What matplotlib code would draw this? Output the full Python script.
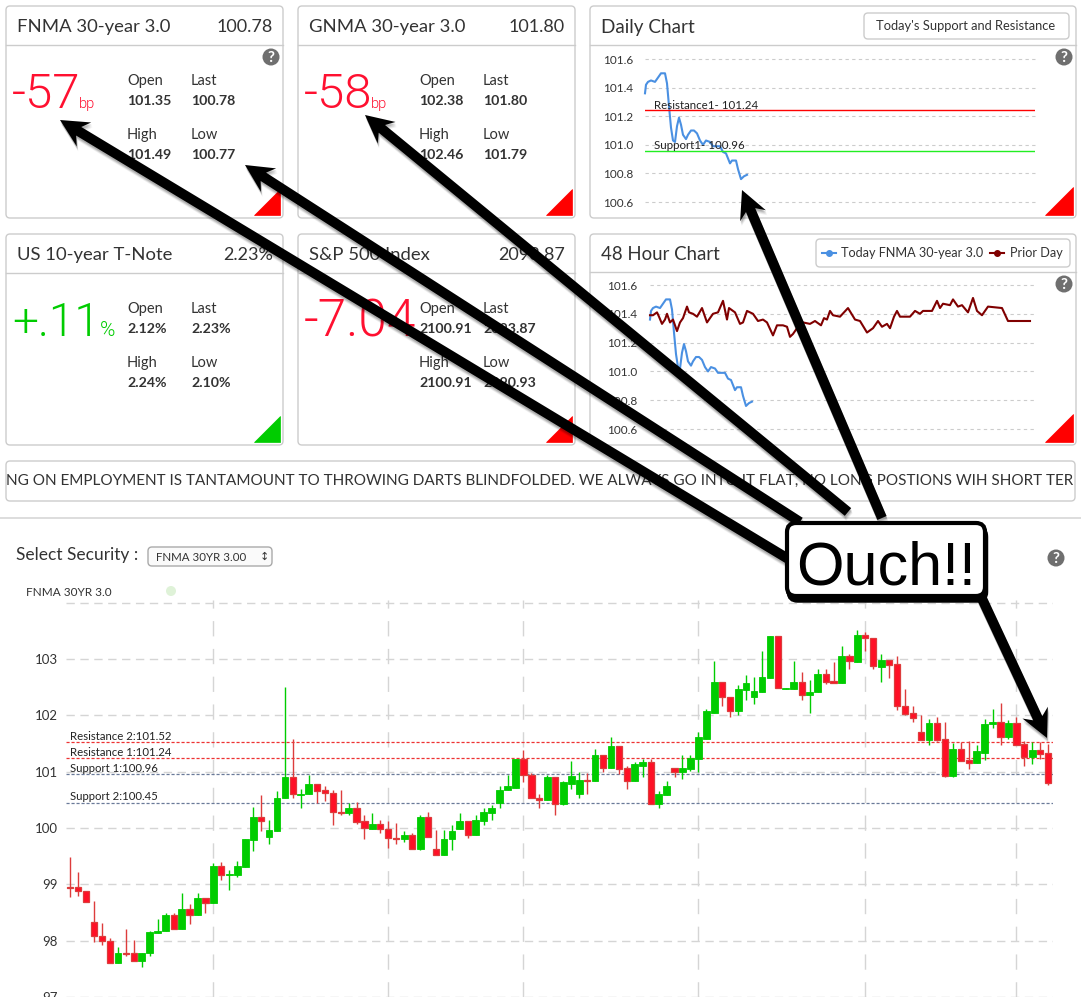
import numpy as np
import matplotlib
matplotlib.use("Agg")
import matplotlib.pyplot as plt
from matplotlib.patches import FancyBboxPatch, Polygon, Circle, Rectangle

# candles
opens = [98.96,98.95,98.89,98.34,98.09,98.00,97.60,97.79,97.78,97.64,
         97.78,98.14,98.17,98.45,98.21,98.56,98.46,98.75,98.67,99.32,
         99.16,99.17,99.31,99.79,100.19,99.84,99.94,100.53,100.91,100.59,
         100.60,100.79,100.67,100.63,100.29,100.26,100.36,100.12,99.99,100.08,
         99.99,99.83,99.81,99.87,99.62,100.19,99.62,99.52,99.80,99.99,
         100.13,99.87,100.13,100.26,100.44,100.67,100.72,101.22,100.95,100.54,
         100.49,100.91,100.42,100.79,100.61,100.86,100.83,101.29,101.06,101.46,
         101.06,100.83,101.11,101.18,100.42,100.59,101.06,100.99,101.04,101.22,
         101.59,102.05,102.60,102.33,102.07,102.46,102.33,102.42,102.67,103.41,
         102.47,102.47,102.60,102.37,102.41,102.74,102.62,102.58,103.06,102.95,
         103.43,103.38,102.86,102.99,102.92,102.17,102.05,101.71,101.57,101.87,
         101.59,100.93,101.41,101.20,101.16,101.34,101.84,101.89,101.61,101.87,
         101.50,101.27,101.38,101.34]
closes = [98.93,98.88,98.69,98.08,97.99,97.60,97.79,97.76,97.64,97.79,
          98.15,98.18,98.45,98.21,98.56,98.46,98.75,98.67,99.32,99.16,
          99.19,99.32,99.80,100.19,100.12,99.96,100.54,100.91,100.60,100.61,
          100.79,100.65,100.62,100.28,100.26,100.36,100.10,100.00,100.08,99.98,
          99.82,99.81,99.87,99.63,100.19,99.84,99.52,99.81,99.94,100.13,
          99.88,100.15,100.28,100.36,100.68,100.74,101.22,100.94,100.53,100.49,
          100.91,100.43,100.81,100.93,100.86,100.83,101.29,101.06,101.46,101.04,
          100.83,101.13,101.18,100.43,100.61,100.74,100.99,101.06,101.24,101.61,
          102.07,102.60,102.32,102.07,102.47,102.58,102.44,102.69,103.41,102.48,
          102.49,102.60,102.37,102.42,102.74,102.60,102.58,103.06,102.96,103.43,
          103.37,102.87,102.99,102.90,102.16,102.03,101.96,101.57,101.87,101.57,
          100.93,101.41,101.19,101.16,101.36,101.85,101.89,101.61,101.87,101.48,
          101.27,101.38,101.32,100.80]
highs = [99.49,99.22,98.89,98.71,98.31,98.04,97.89,98.21,98.02,97.79,
         98.18,98.39,98.50,98.50,98.84,98.65,98.85,98.75,99.38,99.40,
         99.26,99.42,99.80,100.38,100.58,100.15,100.66,102.50,101.59,100.70,
         100.94,100.79,100.75,100.67,100.67,100.45,100.46,100.23,100.27,100.15,
         100.13,100.09,99.94,99.92,100.23,100.29,99.96,99.96,100.06,100.27,
         100.13,100.23,100.36,100.41,100.75,100.94,101.22,101.38,100.98,100.61,
         100.95,100.91,100.84,101.19,100.99,100.98,101.40,101.29,101.62,101.46,
         101.11,101.17,101.23,101.22,100.66,100.84,101.06,101.29,101.29,101.70,
         102.12,102.97,102.60,102.33,102.54,102.72,102.69,103.15,103.41,103.41,
         102.49,102.97,102.78,102.63,102.82,102.83,102.95,103.24,103.09,103.52,
         103.49,103.38,103.09,102.99,103.06,102.47,102.17,102.00,101.94,101.98,
         101.89,101.51,101.52,101.55,101.48,101.94,102.12,102.22,101.92,101.98,
         101.55,101.53,101.53,101.50]
lows = [98.78,98.79,98.69,97.97,97.93,97.60,97.60,97.73,97.64,97.54,
        97.72,98.14,98.17,98.21,98.21,98.30,98.46,98.50,98.67,99.08,
        98.90,99.13,99.31,99.59,99.94,99.71,99.94,100.53,100.53,100.36,
        100.60,100.45,100.48,100.05,100.23,100.24,100.07,99.80,99.99,99.91,
        99.64,99.71,99.75,99.63,99.61,99.84,99.52,99.52,99.61,99.99,
        99.83,99.87,100.05,100.14,100.35,100.67,100.72,100.82,100.53,100.36,
        100.49,100.23,100.41,100.69,100.53,100.60,100.83,100.99,101.06,100.96,
        100.69,100.83,100.91,100.43,100.36,100.59,100.90,100.87,101.01,101.00,
        101.59,102.05,102.16,101.97,102.00,102.27,102.21,102.42,102.67,102.48,
        102.47,102.47,102.28,102.05,102.41,102.56,102.58,102.58,102.83,102.95,
        103.15,102.82,102.59,102.67,102.09,102.01,101.88,101.57,101.48,101.55,
        100.90,100.90,101.19,101.04,101.16,101.20,101.78,101.47,101.58,101.48,
        101.11,101.14,101.23,100.76]
main_yticks = [97, 98, 99, 100, 101, 102, 103, 104]
main_ylabels = ["97", "98", "99", "100", "101", "102", "103", ""]
main_xticks = [18, 40, 57, 79, 100, 119]
levels = [101.52, 101.24, 100.96, 100.45]
level_labels = ["Resistance 2:101.52", "Resistance 1:101.24", "Support 1:100.96", "Support 2:100.45"]

# small line charts
today_t = [0,1,3,6,10,13,16,20,22,24,26,28,30,32,34,36,38,41,43,46,49,52,55,58,61,65,68,71,75,78,81,85,87,91,93,96,99,102]
today_v = [101.36,101.42,101.44,101.45,101.44,101.47,101.50,101.50,101.43,101.27,101.12,101.03,101.02,101.13,101.19,101.14,101.07,101.04,101.07,101.10,
           101.10,101.08,101.03,101.00,101.03,101.02,100.99,100.99,100.99,100.95,100.94,100.87,100.89,100.89,100.83,100.76,100.78,100.79]
prior_t = [0,3,7,9,12,15,17,20,23,25,27,30,33,37,39,43,47,52,57,63,68,73,77,79,85,90,93,97,103,108,113,117,123,127,133,137,140,143,148,153,
           160,165,171,174,177,180,183,190,198,205,210,217,223,228,232,237,240,244,247,250,260,265,270,273,282,287,290,293,300,303,308,312,318,323,327,332,338,352,358,380]
prior_v = [101.39,101.39,101.41,101.38,101.33,101.36,101.40,101.34,101.36,101.32,101.28,101.34,101.37,101.45,101.41,101.40,101.38,101.44,101.34,101.40,
           101.41,101.49,101.36,101.44,101.41,101.33,101.34,101.42,101.40,101.35,101.36,101.34,101.25,101.32,101.32,101.31,101.24,101.26,101.31,101.34,
           101.33,101.35,101.32,101.37,101.36,101.42,101.39,101.38,101.44,101.36,101.35,101.27,101.30,101.35,101.31,101.33,101.30,101.38,101.42,101.38,
           101.38,101.42,101.40,101.42,101.42,101.49,101.44,101.47,101.46,101.50,101.45,101.46,101.41,101.51,101.42,101.39,101.45,101.44,101.35,101.35]
small_yticks = [100.6, 100.8, 101.0, 101.2, 101.4, 101.6]

# the four stat cards
titles = ["FNMA 30-year 3.0", "GNMA 30-year 3.0", "US 10-year T-Note", "S&P 500 Index"]
prices = ["100.78", "101.80", "2.23%", "2093.87"]
changes = ["-57", "-58", "+.11", "-7.04"]
units = ["bp", "bp", "%", ""]
open_vals = ["101.35", "102.38", "2.12%", "2100.91"]
last_vals = ["100.78", "101.80", "2.23%", "2093.87"]
high_vals = ["101.49", "102.46", "2.24%", "2100.91"]
low_vals = ["100.77", "101.79", "2.10%", "2090.93"]

W, H = 1081, 997
FONT = "Lato"
plt.rcParams["font.family"] = [FONT, "DejaVu Sans"]
TXT = "#333333"
RED = "#ff0000"
GREEN = "#00cc00"

fig = plt.figure(figsize=(W / 100, H / 100), dpi=100)
fig.patch.set_facecolor("white")


def px_axes(x0, y0, x1, y1, z=1):
    return fig.add_axes([x0 / W, 1 - y1 / H, (x1 - x0) / W, (y1 - y0) / H], zorder=z)


def box(ax, x0, y0, x1, y1, r=4, ec="#cccccc", fc="white", lw=1.0, z=1):
    ax.add_patch(FancyBboxPatch((x0 + r, y0 + r), x1 - x0 - 2 * r, y1 - y0 - 2 * r,
                                boxstyle="round,pad=%d,rounding_size=%d" % (r, r),
                                ec=ec, fc=fc, lw=lw, zorder=z))


def question(ax, x, y, r=8.5):
    ax.add_patch(Circle((x, y), r, fc="#6f6f6f", ec="none", zorder=3))
    ax.text(x, y + 0.5, "?", color="white", fontsize=11, fontweight="bold", ha="center", va="center", zorder=4)


def corner(ax, x1, y1, color, size=26):
    ax.add_patch(Polygon([(x1 - size, y1), (x1, y1), (x1, y1 - size)], fc=color, ec=color, lw=0.5, zorder=3))


def arrow(ax, x0, y0, x1, y1, w=10, head_w=28, head_l=28, z=5):
    # thick arrow with a concave head, plus a soft shadow
    d = np.array([x1 - x0, y1 - y0], dtype=float)
    d = d / np.hypot(*d)
    n = np.array([-d[1], d[0]])
    tail = np.array([x0, y0], dtype=float)
    tip = np.array([x1, y1], dtype=float)
    neck = tip - d * head_l * 0.78
    back = tip - d * head_l
    pts = [tail + n * w / 2, neck + n * w / 2, back + n * head_w / 2, tip,
           back - n * head_w / 2, neck - n * w / 2, tail - n * w / 2]
    for off, a in [(5, 0.06), (4, 0.08), (3, 0.10), (2, 0.12)]:
        ax.add_patch(Polygon([p + np.array([off * 0.3, off]) for p in pts], fc="black", ec="none", alpha=a, zorder=z))
    ax.add_patch(Polygon(pts, fc="black", ec="none", zorder=z + 1))


# page layer in pixel coordinates
bg = px_axes(0, 0, W, H, z=0)
bg.set_xlim(0, W)
bg.set_ylim(H, 0)
bg.axis("off")

card_boxes = [(6, 6, 283, 218), (298, 6, 575, 218), (6, 234, 283, 445), (298, 234, 575, 445)]
corner_cols = [RED, RED, GREEN, RED]
big_sizes = [35.5, 35.5, 33, 37]
for i, (x0, y0, x1, y1) in enumerate(card_boxes):
    box(bg, x0, y0, x1, y1)
    bg.plot([x0, x1], [y0 + 39, y0 + 39], color="#cccccc", lw=1)
    bg.text(x0 + 11, y0 + 21, titles[i], fontsize=13.3, color=TXT, va="center")
    bg.text(x1 - 10, y0 + 21, prices[i], fontsize=13.0, color=TXT, va="center", ha="right")
    col = GREEN if changes[i].startswith("+") else "#ff1030"
    bg.text(x0 + 6, y0 + 102, changes[i], fontsize=big_sizes[i], color=col, va="baseline", family="Roboto", fontweight=300)
    if units[i]:
        ux = x0 + (94 if units[i] == "%" else 73)
        bg.text(ux, y0 + 102, units[i], fontsize=15 if units[i] == "%" else 10.5, color=col, va="baseline", family="Roboto", fontweight=300)
    bg.text(x0 + 121, y0 + 75, "Open", fontsize=10.5, color=TXT, va="center")
    bg.text(x0 + 121, y0 + 95, open_vals[i], fontsize=10.2, color=TXT, va="center", fontweight="bold")
    bg.text(x0 + 185, y0 + 75, "Last", fontsize=10.5, color=TXT, va="center")
    bg.text(x0 + 185, y0 + 95, last_vals[i], fontsize=10.2, color=TXT, va="center", fontweight="bold")
    bg.text(x0 + 121, y0 + 129, "High", fontsize=10.5, color=TXT, va="center")
    bg.text(x0 + 121, y0 + 149, high_vals[i], fontsize=10.2, color=TXT, va="center", fontweight="bold")
    bg.text(x0 + 185, y0 + 129, "Low", fontsize=10.5, color=TXT, va="center")
    bg.text(x0 + 185, y0 + 149, low_vals[i], fontsize=10.2, color=TXT, va="center", fontweight="bold")
    corner(bg, x1 - 3, y1 - 3, corner_cols[i])
question(bg, 271, 57)

# daily / 48 hour frames
box(bg, 590, 6, 1076, 218)
bg.plot([590, 1076], [45, 45], color="#cccccc", lw=1)
bg.text(601, 27, "Daily Chart", fontsize=13.6, color=TXT, va="center")
box(bg, 864, 13, 1069, 39)
bg.text(966, 26, "Today's Support and Resistance", fontsize=9.3, color=TXT, va="center", ha="center")
question(bg, 1064, 57)
corner(bg, 1073, 215, RED, 28)

box(bg, 590, 234, 1076, 445)
bg.plot([590, 1076], [272, 272], color="#cccccc", lw=1)
bg.text(601, 254, "48 Hour Chart", fontsize=13.4, color=TXT, va="center")
box(bg, 816, 239, 1070, 267)
question(bg, 1064, 284)
corner(bg, 1073, 442, RED, 28)
bg.plot([822, 836], [253, 253], color="#4a90e2", lw=1.5)
bg.plot([829], [253], color="#4a90e2", marker="o", ms=4)
bg.text(841, 253, "Today FNMA 30-year 3.0", fontsize=9.1, color=TXT, va="center")
bg.plot([990, 1004], [253, 253], color="#800000", lw=1.5)
bg.plot([997], [253], color="#800000", marker="o", ms=4)
bg.text(1010, 253, "Prior Day", fontsize=9.1, color=TXT, va="center")

# ticker and the strip under it
box(bg, 6, 461, 1075, 501)
bg.text(6, 481, "NG ON EMPLOYMENT IS TANTAMOUNT TO THROWING DARTS BLINDFOLDED. WE ALWAYS GO INTO IT FLAT, NO LONG POSTIONS WIH SHORT TER",
        fontsize=11, color=TXT, va="center")
bg.add_patch(Rectangle((0, 517), W, 2, fc="#dddddd", ec="none"))

bg.text(16, 555, "Select Security :", fontsize=12.5, color=TXT, va="center")
box(bg, 148, 547, 272, 566, ec="#aaaaaa", fc="#fafafa")
bg.text(156, 557, "FNMA 30YR 3.00", fontsize=8.3, color=TXT, va="center")
bg.text(264, 557, "\u2195", fontsize=8, color=TXT, va="center", ha="center", family="DejaVu Sans")
question(bg, 1056, 558)
bg.text(26, 592, "FNMA 30YR 3.0", fontsize=8.5, color=TXT, va="center")
bg.add_patch(Circle((171, 591), 5, fc="#dff2d8", ec="none"))


def small_chart(x0, y0, x1, y1, pad):
    ax = px_axes(x0, y0, x1, y1, z=1)
    ax.patch.set_alpha(0)
    ax.set_xlim(0, x1 - x0)
    ax.set_ylim(100.6, 101.6)
    ax.set_yticks(small_yticks)
    ax.set_yticklabels(["%.1f" % v for v in small_yticks], fontsize=8.5, color=TXT)
    ax.set_xticks([])
    ax.tick_params(axis="y", length=0, pad=pad)
    ax.grid(axis="y", color="#cccccc", lw=0.8, ls=(0, (3, 3)), clip_on=False)
    for s in ax.spines.values():
        s.set_visible(False)
    return ax


daily = small_chart(645, 59, 1035, 202, 8.6)
daily.plot(today_t, today_v, color="#4a90e2", lw=1.5, clip_on=False)
daily.plot([0, 390], [101.24, 101.24], color="#ff0000", lw=1)
daily.plot([0, 390], [100.96, 100.96], color="#22ee22", lw=1)
daily.text(9, 101.235, "Resistance1- 101.24", fontsize=8.3, color="#222222", va="bottom")
daily.text(9, 100.955, "Support1- 100.96", fontsize=8.3, color="#222222", va="bottom")

two_day = small_chart(650, 285, 1035, 429, 9)
two_day.plot(today_t, today_v, color="#4a90e2", lw=1.5, clip_on=False)
two_day.plot(prior_t, prior_v, color="#800000", lw=1.5, clip_on=False)

# main candlestick chart
ax = px_axes(66, 600, 1053, 997, z=1)
ax.patch.set_alpha(0)
ax.set_xlim(-0.54, 123.6)
ax.set_ylim(97.01, 104.05)
ax.set_yticks(main_yticks)
ax.set_yticklabels(main_ylabels, fontsize=9.5, color=TXT)
ax.set_xticks(main_xticks)
ax.set_xticklabels([])
ax.tick_params(length=0, pad=6)
ax.grid(axis="y", color="#d5d5d5", lw=1, ls=(0, (6, 4)))
ax.grid(axis="x", color="#d5d5d5", lw=1, ls=(0, (11, 9)))
ax.set_axisbelow(True)
for s in ax.spines.values():
    s.set_visible(False)

lev_cols = ["#ee3333", "#ee3333", "#6a7a99", "#6a7a99"]
for lv, lab, c in zip(levels, level_labels, lev_cols):
    ax.axhline(lv, color=c, lw=0.9, ls=(0, (2.5, 1.5)), zorder=1.5)
    ax.text(0, lv + 0.005, lab, fontsize=8.2, color="#222222", va="bottom")

idx = np.arange(len(opens))
o = np.array(opens)
c = np.array(closes)
up = c >= o
ax.vlines(idx[up], np.array(lows)[up], np.array(highs)[up], color="#00cc00", lw=1, zorder=2)
ax.vlines(idx[~up], np.array(lows)[~up], np.array(highs)[~up], color="#dd3c3c", lw=1, zorder=2)
ax.bar(idx[up], (c - o)[up], bottom=o[up], width=0.85, color="#00cc00", edgecolor="#00cc00", lw=0.6, zorder=3)
ax.bar(idx[~up], (o - c)[~up], bottom=c[~up], width=0.78, color="#ff1026", edgecolor="#dd3c3c", lw=0.9, zorder=3)

# annotation layer on top of everything
top = px_axes(0, 0, W, H, z=10)
top.patch.set_alpha(0)
top.set_xlim(0, W)
top.set_ylim(H, 0)
top.axis("off")
arrow(top, 790, 560, 60, 120)
arrow(top, 800, 522, 245, 165)
arrow(top, 848, 512, 365, 115)
arrow(top, 882, 518, 742, 190)
arrow(top, 978, 590, 1047, 738)
for off, a in [(5, 0.08), (3, 0.12)]:
    box(top, 787 + off * 0.3, 523 + off, 985 + off * 0.3, 596 + off, r=9, ec="black", fc="none", lw=2.5, z=7)
box(top, 787, 523, 985, 596, r=9, ec="black", fc="white", lw=3, z=8)
top.text(886, 569, "Ouch!!", fontsize=44, color="black", ha="center", va="center",
         family="Liberation Sans", zorder=9)

fig.savefig("out.png", dpi=100)
